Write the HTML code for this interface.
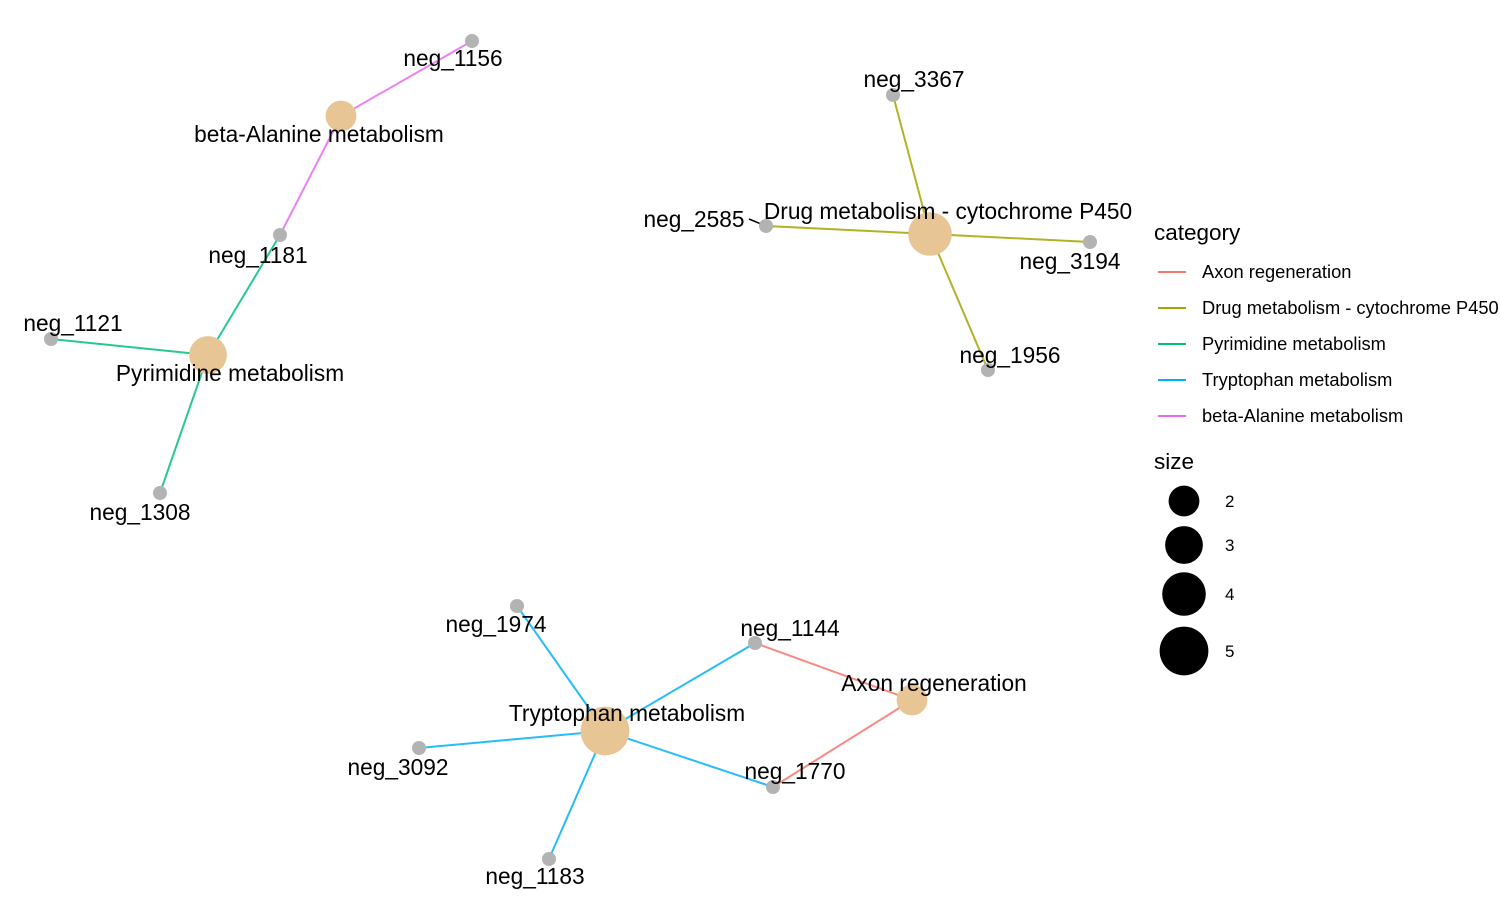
<!DOCTYPE html>
<html><head><meta charset="utf-8"><style>
body{margin:0;background:#fff;}
svg{display:block;font-family:"Liberation Sans",sans-serif;}
</style></head><body>
<svg id="chart" width="1500" height="900"></svg>
<script>
const categories=["Axon regeneration","Drug metabolism - cytochrome P450","Pyrimidine metabolism","Tryptophan metabolism","beta-Alanine metabolism"];
const catColors=["#F8766D","#A3A500","#00BF7D","#00B0F6","#E76BF3"];
const catX=[912,930,208,605,341];
const catY=[700,234,355,731,116];
const catSize=[2,4,3,5,2];
const catLabelDx=[22,18,22,22,-22];
const catLabelDy=[-17,-23,18,-18,18];
const genes=["neg_1156","neg_1181","neg_1121","neg_1308","neg_3367","neg_2585","neg_3194","neg_1956","neg_1974","neg_1144","neg_3092","neg_1770","neg_1183"];
const geneX=[472,280,51,160,893,766,1090,988,517,755,419,773,549];
const geneY=[41,235,339,493,95,226,242,370,606,643,748,787,859];
const geneLabelDx=[-19,-22,22,-20,21,-72,-20,22,-21,35,-21,22,-14];
const geneLabelDy=[17,20,-16,19,-16,-7,19,-15,18,-15,19,-16,17];
const edgeFrom=[4,4,2,2,2,1,1,1,1,3,3,3,3,3,0,0];
const edgeTo=[0,1,1,2,3,4,5,6,7,8,9,10,11,12,9,11];
const sizeTicks=[2,3,4,5];
const sizeTickY=[501,545,594,651];

const NS="http://www.w3.org/2000/svg";
const svg=document.getElementById('chart');
function mk(t,a,p){const e=document.createElementNS(NS,t);for(const k in a)e.setAttribute(k,a[k]);(p||svg).appendChild(e);return e;}
function rScale(s){return s<=1?7:10.9*Math.sqrt(s);}

const gE=mk('g',{});

for(let i=0;i<edgeFrom.length;i++){
  const c=edgeFrom[i],g=edgeTo[i];
  const l=mk('line',{x1:catX[c],y1:catY[c],x2:geneX[g],y2:geneY[g],stroke:catColors[c],'stroke-width':2,'stroke-opacity':0.85},gE);
  
  
}
const ld=mk('line',{x1:749,y1:219,x2:766,y2:226,stroke:'#000','stroke-width':1.5});


for(let i=0;i<genes.length;i++){
  const c=mk('circle',{cx:geneX[i],cy:geneY[i],r:rScale(1),fill:'#B3B3B3'});
  
}
for(let i=0;i<categories.length;i++){
  const c=mk('circle',{cx:catX[i],cy:catY[i],r:rScale(catSize[i]),fill:'#E8C595'});
  
  
}
for(let i=0;i<genes.length;i++){
  const t=mk('text',{x:geneX[i]+geneLabelDx[i],y:geneY[i]+geneLabelDy[i]+8,'font-size':22.7,'text-anchor':'middle',fill:'#000'});
  t.textContent=genes[i];
  
}
for(let i=0;i<categories.length;i++){
  const t=mk('text',{x:catX[i]+catLabelDx[i],y:catY[i]+catLabelDy[i]+8,'font-size':22.7,'text-anchor':'middle',fill:'#000'});
  t.textContent=categories[i];
  
  
}
const lg=mk('g',{});

const lt=mk('text',{x:1154,y:240,'font-size':22.5},lg);lt.textContent='category';

for(let i=0;i<categories.length;i++){
  const y=272+36*i;
  const l=mk('line',{x1:1158,x2:1186,y1:y,y2:y,stroke:catColors[i],'stroke-width':2},lg);
  
  const t=mk('text',{x:1202,y:y+6,'font-size':18.3},lg);t.textContent=categories[i];
  
}
const st=mk('text',{x:1154,y:469,'font-size':22.5},lg);st.textContent='size';

for(let i=0;i<sizeTicks.length;i++){
  const c=mk('circle',{cx:1184,cy:sizeTickY[i],r:rScale(sizeTicks[i]),fill:'#000'},lg);
  
  const t=mk('text',{x:1225,y:sizeTickY[i]+6,'font-size':17},lg);t.textContent=sizeTicks[i];
  
}
</script>
</body></html>
